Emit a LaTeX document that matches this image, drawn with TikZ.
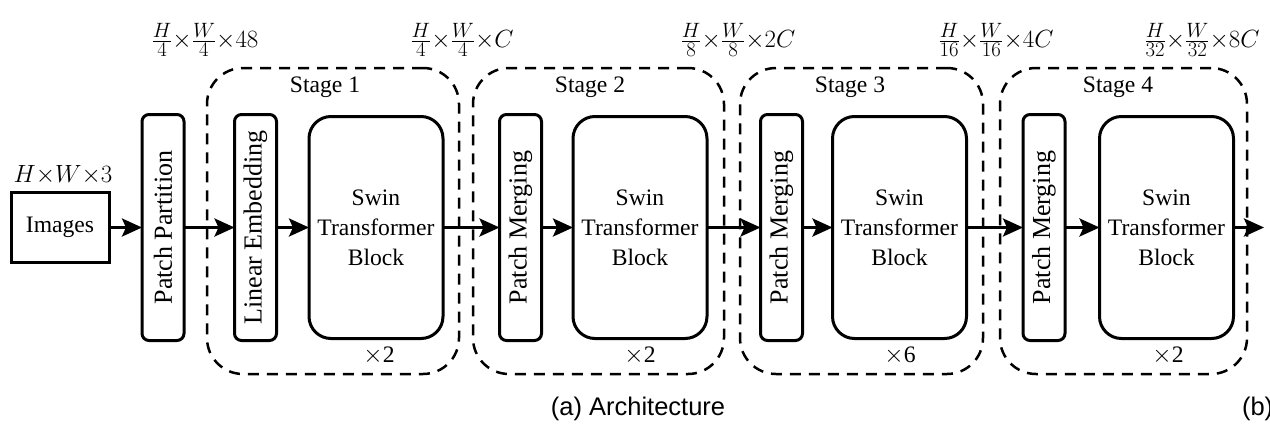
\documentclass[tikz,border=0pt]{standalone}
\usepackage{fontspec}
\setmainfont{Liberation Serif}
\newfontfamily\capfont{Liberation Sans}
\usetikzlibrary{arrows.meta}
\begin{document}
\begin{tikzpicture}[x=1pt,y=1pt,
  every node/.style={inner sep=0pt, outer sep=0pt},
  plainbox/.style={draw, line width=3pt, minimum width=98pt, minimum height=70pt,
    font=\fontsize{23.6}{28}\selectfont},
  slimbox/.style={draw, line width=3pt, rounded corners=7pt, rotate=90,
    minimum width=226pt, minimum height=42pt, font=\fontsize{26}{30}\selectfont},
  swinbox/.style={draw, line width=3pt, rounded corners=22pt, minimum width=134pt,
    minimum height=222pt, align=center, font=\fontsize{23.6}{30}\selectfont},
  stagebox/.style={draw, line width=2.5pt, dash pattern=on 11pt off 8pt,
    rounded corners=36pt, minimum width=#1, minimum height=306pt},
  label/.style={font=\fontsize{23.6}{28}\selectfont},
  dims/.style={font=\fontsize{29}{32}\selectfont},
  arr/.style={line width=3pt, -{Stealth[length=20pt, width=18pt, inset=4pt]}},
]
\path[use as bounding box] (0,0) rectangle (1270,-431);

% dashed stage frames
\node[stagebox=252pt] (st1) at (333,-221) {};
\node[stagebox=251pt] (st2) at (598.5,-221) {};
\node[stagebox=243pt] (st3) at (861.5,-221) {};
\node[stagebox=247pt] (st4) at (1123.5,-221) {};

\node[label] (t1) at (325,-87) {Stage 1};
\node[label] (t2) at (590,-87) {Stage 2};
\node[label] (t3) at (850,-87) {Stage 3};
\node[label] (t4) at (1118,-87) {Stage 4};

% input
\node[plainbox] (img) at (60,-227.5) {Images};
\node[font=\fontsize{25}{28}\selectfont] (imgdim) at (63,-175) {$H{\times}W{\times}3$};

% processing blocks
\node[slimbox] (pp) at (163,-227.5) {Patch Partition};
\node[slimbox] (le) at (255.5,-227.5) {Linear Embedding};
\node[swinbox] (s1) at (376,-227.5) {Swin\\Transformer\\Block};
\node[slimbox] (pm2) at (520.5,-227.5) {Patch Merging};
\node[swinbox] (s2) at (640,-227.5) {Swin\\Transformer\\Block};
\node[slimbox] (pm3) at (781.5,-227.5) {Patch Merging};
\node[swinbox] (s3) at (899.5,-227.5) {Swin\\Transformer\\Block};
\node[slimbox] (pm4) at (1044,-227.5) {Patch Merging};
\node[swinbox] (s4) at (1166.5,-227.5) {Swin\\Transformer\\Block};
\coordinate (out) at (1264,-227.5);

% repetition counts
\node[label] (r1) at (379,-356) {$\times$2};
\node[label] (r2) at (640,-356) {$\times$2};
\node[label] (r3) at (900,-356) {$\times$6};
\node[label] (r4) at (1168,-356) {$\times$2};

% feature map sizes
\node[dims] (d0) at (205,-40) {$\frac{H}{4}{\times}\frac{W}{4}{\times}48$};
\node[dims] (d1) at (462,-40) {$\frac{H}{4}{\times}\frac{W}{4}{\times}C$};
\node[dims] (d2) at (738,-40) {$\frac{H}{8}{\times}\frac{W}{8}{\times}2C$};
\node[dims] (d3) at (996,-40) {$\frac{H}{16}{\times}\frac{W}{16}{\times}4C$};
\node[dims] (d4) at (1202,-40) {$\frac{H}{32}{\times}\frac{W}{32}{\times}8C$};

% data flow
\draw[arr] (img) -- (pp);
\draw[arr] (pp) -- (le);
\draw[arr] (le) -- (s1);
\draw[arr] (s1) -- (pm2);
\draw[arr] (pm2) -- (s2);
\draw[arr] (s2) -- (pm3);
\draw[arr] (pm3) -- (s3);
\draw[arr] (s3) -- (pm4);
\draw[arr] (pm4) -- (s4);
\draw[arr] (s4) -- (out);

% captions
\node[font=\capfont\fontsize{25.5}{28}\selectfont] (capa) at (638,-409) {(a) Architecture};
\node[font=\capfont\fontsize{25.5}{28}\selectfont, anchor=west] (capb) at (1242,-409) {(b)};
\end{tikzpicture}
\end{document}
